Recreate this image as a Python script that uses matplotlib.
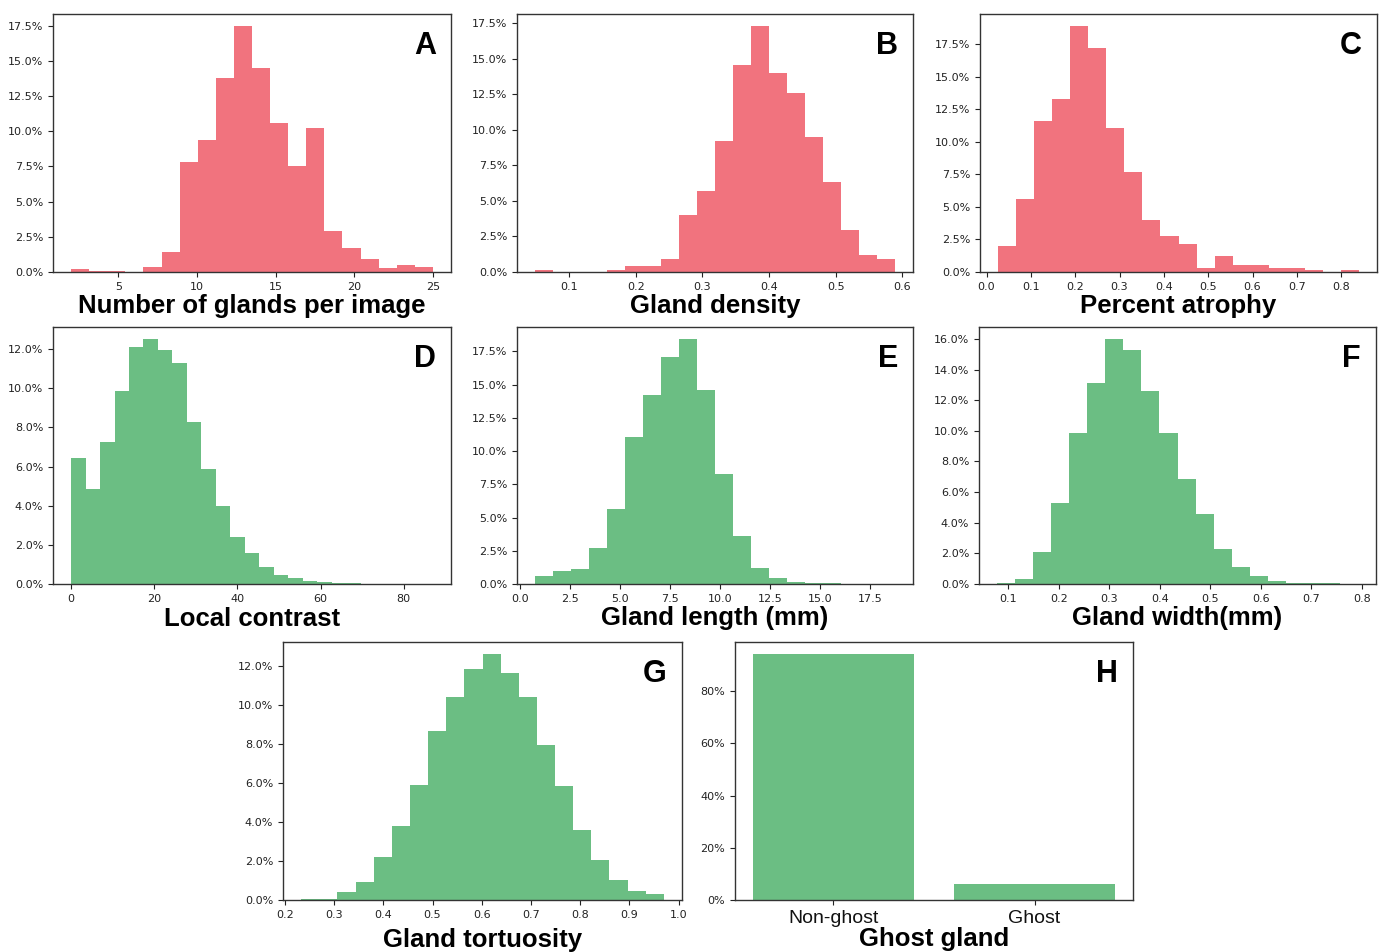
import matplotlib as mpl
mpl.use('Agg')
import matplotlib.pyplot as plt
import numpy as np
from matplotlib.ticker import PercentFormatter, MultipleLocator

RED = '#f1737e'
GREEN = '#6bbe83'

# percent of images per histogram bin
glands_range = (2.0, 25.0)
glands_pct = [0.24, 0.05, 0.05, 0.0, 0.33, 1.42, 7.8, 9.36, 13.8, 17.45,
              14.5, 10.6, 7.56, 10.26, 2.9, 1.7, 0.92, 0.26, 0.47, 0.33]

density_range = (0.049, 0.589)
density_pct = [0.16, 0.0, 0.0, 0.0, 0.16, 0.4, 0.4, 0.94, 4.0, 5.7,
               9.25, 14.6, 17.3, 14.0, 12.6, 9.5, 6.34, 2.93, 1.22, 0.94]

atrophy_range = (0.026, 0.84)
atrophy_pct = [2.03, 5.65, 11.65, 13.3, 18.9, 17.24, 11.1, 7.67, 4.03, 2.75,
               2.18, 0.33, 1.26, 0.51, 0.51, 0.33, 0.33, 0.15, 0.0, 0.15]

contrast_range = (0.0, 87.0)
contrast_pct = [6.46, 4.86, 7.23, 9.85, 12.09, 12.5, 11.95, 11.3, 8.26, 5.85,
                4.0, 2.41, 1.56, 0.85, 0.48, 0.29, 0.14, 0.12, 0.05, 0.04,
                0.0, 0.0, 0.0, 0.0, 0.01]

length_range = (0.75, 18.75)
length_pct = [0.6, 0.95, 1.13, 2.68, 5.61, 11.03, 14.24, 17.1, 18.42, 14.59,
              8.25, 3.63, 1.23, 0.43, 0.15, 0.08, 0.06, 0.0, 0.0, 0.01]

width_range = (0.0776, 0.792)
width_pct = [0.04, 0.3, 2.09, 5.26, 9.85, 13.15, 15.98, 15.28, 12.57, 9.85,
             6.85, 4.54, 2.3, 1.13, 0.52, 0.2, 0.07, 0.04, 0.04, 0.01]

tortuosity_range = (0.233, 0.97)
tortuosity_pct = [0.03, 0.03, 0.43, 0.93, 2.23, 3.8, 5.91, 8.66, 10.44, 11.86,
                  12.62, 11.66, 10.44, 7.95, 5.86, 3.57, 2.07, 1.05, 0.48, 0.31]

ghost_labels = ['Non-ghost', 'Ghost']
ghost_pct = [94.1, 6.0]

W, H = 1384, 952
fig = plt.figure(figsize=(W / 100, H / 100), dpi=100)


def make_ax(l, t, r, b):
  return fig.add_axes([l / W, 1 - b / H, (r - l) / W, (b - t) / H])


def style(ax, letter, xlabel, ystep, ydec=1, labelpad=2):
  ax.yaxis.set_major_locator(MultipleLocator(ystep))
  ax.yaxis.set_major_formatter(PercentFormatter(xmax=100, decimals=ydec))
  ax.tick_params(labelsize=8, colors='#222222', length=3.5, width=0.8)
  for s in ax.spines.values():
    s.set_color('#333333')
    s.set_linewidth(1.0)
  ax.set_xlabel(xlabel, fontsize=18.5, fontweight='bold',
                family='Liberation Sans', labelpad=labelpad)
  ax.text(0.962, 0.935, letter, transform=ax.transAxes, ha='right', va='top',
          fontsize=22, fontweight='bold', family='Liberation Sans')


def histo(ax, rng, pct, color):
  edges = np.linspace(rng[0], rng[1], len(pct) + 1)
  centers = (edges[:-1] + edges[1:]) / 2
  ax.hist(centers, bins=edges, weights=pct, color=color)


panels = [
  ((53, 14, 451, 272), glands_range, glands_pct, RED, 'A', 'Number of glands per image', 5, 2.5),
  ((517, 14, 913, 272), density_range, density_pct, RED, 'B', 'Gland density', 0.1, 2.5),
  ((980, 14, 1377, 272), atrophy_range, atrophy_pct, RED, 'C', 'Percent atrophy', 0.1, 2.5),
  ((53, 327, 451, 584), contrast_range, contrast_pct, GREEN, 'D', 'Local contrast', 20, 2),
  ((517, 327, 913, 584), length_range, length_pct, GREEN, 'E', 'Gland length (mm)', 2.5, 2.5),
  ((979, 327, 1376, 584), width_range, width_pct, GREEN, 'F', 'Gland width(mm)', 0.1, 2),
  ((283, 642, 682, 900), tortuosity_range, tortuosity_pct, GREEN, 'G', 'Gland tortuosity', 0.1, 2),
]

for rect, rng, pct, color, letter, label, xstep, ystep in panels:
  ax = make_ax(*rect)
  histo(ax, rng, pct, color)
  ax.xaxis.set_major_locator(MultipleLocator(xstep))
  style(ax, letter, label, ystep, labelpad=(6 if letter == 'G' else 2))

ax = make_ax(735, 642, 1133, 900)
ax.bar(ghost_labels, ghost_pct, width=0.8, color=GREEN)
style(ax, 'H', 'Ghost gland', 20, ydec=0, labelpad=0)
for t in ax.get_xticklabels():
  t.set_fontsize(14)
  t.set_family('Liberation Sans')
  t.set_color('#111111')

plt.savefig('out.png', dpi=100)
plt.close()
